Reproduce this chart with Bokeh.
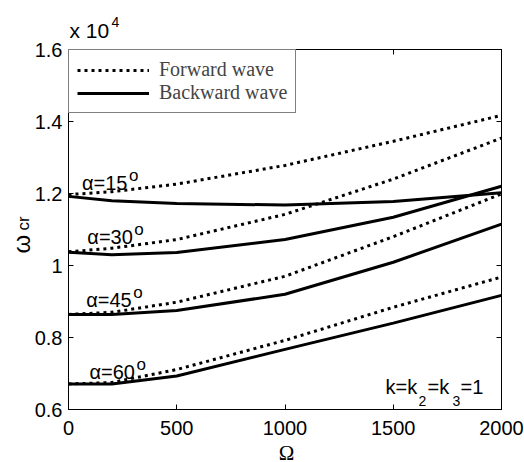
import math
from bokeh.plotting import figure
from bokeh.models import (Range1d, FixedTicker, LinearAxis, Label, Legend, LegendItem,
                          ColumnDataSource)
from bokeh.core.properties import value
from bokeh.embed import file_html
from bokeh.resources import INLINE

# ---------------- data ----------------
omega = [0, 200, 500, 1000, 1500, 2000]

fwd15 = [1.197, 1.205, 1.226, 1.278, 1.345, 1.417]
bwd15 = [1.192, 1.180, 1.172, 1.168, 1.178, 1.202]
fwd30 = [1.038, 1.048, 1.072, 1.142, 1.240, 1.354]
bwd30 = [1.037, 1.030, 1.036, 1.072, 1.134, 1.220]
fwd45 = [0.864, 0.870, 0.898, 0.970, 1.080, 1.199]
bwd45 = [0.864, 0.864, 0.875, 0.920, 1.009, 1.115]
fwd60 = [0.671, 0.675, 0.711, 0.792, 0.884, 0.968]
bwd60 = [0.671, 0.671, 0.693, 0.767, 0.840, 0.917]

x_ticks = [0, 500, 1000, 1500, 2000]
y_ticks = [0.6, 0.8, 1.0, 1.2, 1.4, 1.6]
y_tick_labels = ["0.6", "0.8", "1", "1.2", "1.4", "1.6"]

alpha_labels = ["α=15", "α=30", "α=45", "α=60"]
alpha_x = [62, 87, 82, 97]
alpha_y = [1.228, 1.078, 0.904, 0.703]

legend_labels = ["Forward wave", "Backward wave"]

# ---------------- layout ----------------
W, H = 524, 462
FL, FT, FW, FH = 68, 49, 433, 360
X0, X1, Y0, Y1 = 0, 2000, 0.6, 1.6

def dx(X):
    return X0 + (X - FL) / FW * (X1 - X0)

def dy(Y):
    return Y1 - (Y - FT) / FH * (Y1 - Y0)

SANS = "Liberation Sans"
SERIF = "Liberation Serif"

p = figure(width=W, height=H, x_range=Range1d(X0, X1), y_range=Range1d(Y0, Y1),
           output_backend="svg", toolbar_location=None,
           min_border_left=FL, min_border_top=FT,
           min_border_right=W - FL - FW, min_border_bottom=H - FT - FH,
           background_fill_color="white", border_fill_color="white")
p.grid.visible = False
p.outline_line_color = "black"
p.outline_line_width = 1

for ax in p.xaxis:
    ax.ticker = FixedTicker(ticks=x_ticks)
for ax in p.yaxis:
    ax.ticker = FixedTicker(ticks=y_ticks)
    ax.major_label_overrides = {t: s for t, s in zip(y_ticks, y_tick_labels)}

for ax in list(p.xaxis) + list(p.yaxis):
    ax.major_tick_in = 5
    ax.major_tick_out = 0
    ax.minor_tick_line_color = None
    ax.axis_line_color = "black"
    ax.major_tick_line_color = "black"
    ax.major_label_text_font = SANS
    ax.major_label_text_font_size = "20px"
    ax.major_label_text_color = "black"
p.xaxis.major_label_standoff = 11
p.yaxis.major_label_standoff = 6

# mirrored ticks on top and right
top = LinearAxis(ticker=FixedTicker(ticks=x_ticks), major_tick_in=5, major_tick_out=0,
                 minor_tick_line_color=None, major_label_text_font_size="0px",
                 major_label_standoff=0)
right = LinearAxis(ticker=FixedTicker(ticks=y_ticks), major_tick_in=5, major_tick_out=0,
                   minor_tick_line_color=None, major_label_text_font_size="0px",
                   major_label_standoff=0)
p.add_layout(top, "above")
p.add_layout(right, "right")

# ---------------- curves ----------------
DOT = dict(line_color="black", line_width=3, line_dash="3 4", line_cap="butt")
SOL = dict(line_color="black", line_width=3)

series = [(fwd15, bwd15), (fwd30, bwd30), (fwd45, bwd45), (fwd60, bwd60)]
first_f = first_b = None
for f, b in series:
    rf = p.line(omega, f, **DOT)
    rb = p.line(omega, b, **SOL)
    if first_f is None:
        first_f, first_b = rf, rb

legend = Legend(items=[LegendItem(label=legend_labels[0], renderers=[first_f]),
                       LegendItem(label=legend_labels[1], renderers=[first_b])],
                location="top_left", margin=0, padding=8, spacing=0,
                glyph_width=72, glyph_height=20, label_standoff=10,
                label_text_font=SERIF, label_text_font_size="20px",
                border_line_color="black", border_line_width=1,
                background_fill_color="white", background_fill_alpha=1)
p.add_layout(legend)

# ---------------- annotations ----------------
src = ColumnDataSource(dict(x=alpha_x, y=alpha_y, t=alpha_labels,
                            o=["o"] * len(alpha_labels)))
p.text(x="x", y="y", text="t", source=src, text_font=value(SANS),
       text_font_size="20px", text_color="black", text_baseline="alphabetic")
p.text(x="x", y="y", text="o", source=src, text_font=value(SANS),
       text_font_size="17px", text_color="black", text_baseline="alphabetic",
       x_offset=47, y_offset=-8)

def lab(text, X, Y, size, font=SANS, align="left", angle=0.0, place=None):
    fs = float(size.replace("px", ""))
    if angle == 0.0:
        Y = Y - 0.3 * fs
    else:
        X = X - 0.3 * fs
    l = Label(x=dx(X), y=dy(Y), text=text, text_font=font,
              text_font_size=size, text_color="black", text_align=align,
              text_baseline="alphabetic", angle=angle)
    if place is None:
        p.add_layout(l)
    else:
        p.add_layout(l, place)

# exponent above the axis
lab("x 10", 69, 36, "21px", place="above")
lab("4", 111, 26, "14px", place="above")

# k = k2 = k3 = 1
lab("k=k", 385, 392.3, "20px")
lab("2", 418, 405, "14px")
lab("=k", 427, 392.3, "20px")
lab("3", 452, 405, "14px")
lab("=1", 460, 392.3, "20px")

# axis titles (each placed in a side panel that has spare room, so it is not clipped)
lab("Ω", 286, 459, "21px", font=SERIF, align="center", place="below")
lab("ω", 28, 253, "24px", angle=math.pi / 2, place="left")
lab("cr", 28, 230, "17px", angle=math.pi / 2, place="right")

open("out.html", "w").write(file_html(p, INLINE))
